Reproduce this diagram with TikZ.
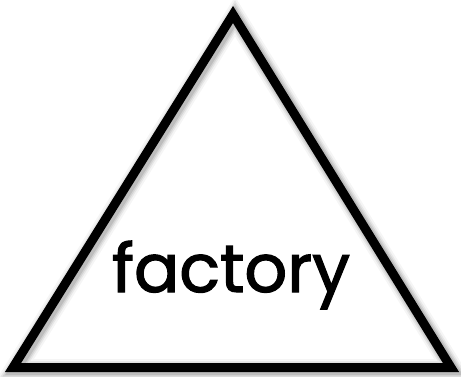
\documentclass[tikz,border=0pt]{standalone}
\usepackage{fontspec}
\setmainfont{Poppins}[FakeBold=1.8]
\tikzset{
    edge/.style={line width=9, black, line join=miter},
    halo/.style={line join=miter, black, opacity=#1},
    word/.style={font=\fontsize{67}{67}\selectfont, inner sep=0pt, anchor=base}
}

\begin{document}
\begin{tikzpicture}[x=1pt, y=-1pt]
    \useasboundingbox[fill=white] (0,0) rectangle (461,376);

    \coordinate (apex) at (233,14.5);
    \coordinate (left) at (13,367.5);
    \coordinate (right) at (451,367.5);

    % soft shadow round the triangle
    \foreach \w/\o in {21/0.04, 17/0.06, 14/0.08, 11/0.10} {
        \draw[halo=\o, line width=\w] ([xshift=2pt, yshift=-2pt]apex) -- ([xshift=2pt, yshift=-2pt]left)
            -- ([xshift=2pt, yshift=-2pt]right) -- cycle;
    }
    \draw[edge] (apex) -- (left) -- (right) -- cycle;

    \node[word] (label) at (231,292) {factory};
\end{tikzpicture}
\end{document}
